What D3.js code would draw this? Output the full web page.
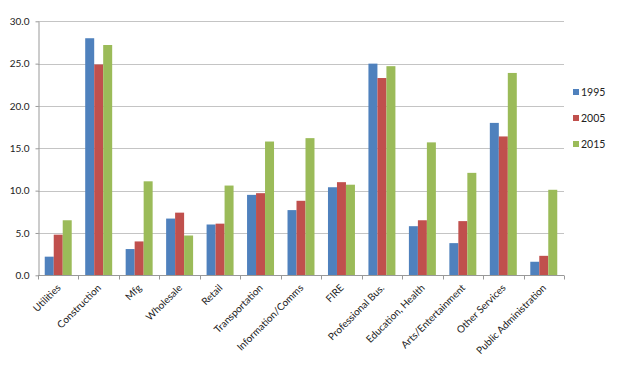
<!DOCTYPE html>
<html lang="en">
<head>
    <meta charset="UTF-8">
    <title>Industry shares 1995-2015</title>
    <style>
        body { margin: 0; background: #fff; }
        svg text { font-family: Lato, "Open Sans", sans-serif; fill: #222; }
    </style>
</head>
<body>
    <svg id="chart"></svg>
    <script src="https://cdn.jsdelivr.net/npm/d3@7/dist/d3.min.js"></script>
    <script>
        const categories = ["Utilities", "Construction", "Mfg", "Wholesale", "Retail", "Transportation",
            "Information/Comms", "FIRE", "Professional Bus.", "Education, Health", "Arts/Entertainment",
            "Other Services", "Public Administration"];
        const seriesNames = ["1995", "2005", "2015"];
        const values1995 = [2.2, 28.0, 3.1, 6.7, 6.0, 9.5, 7.7, 10.4, 25.0, 5.8, 3.8, 18.0, 1.6];
        const values2005 = [4.8, 24.9, 4.0, 7.4, 6.1, 9.7, 8.8, 11.0, 23.3, 6.5, 6.4, 16.4, 2.3];
        const values2015 = [6.5, 27.2, 11.1, 4.7, 10.6, 15.8, 16.2, 10.7, 24.7, 15.7, 12.1, 23.9, 10.1];
        const yTicks = [0, 5, 10, 15, 20, 25, 30];
        const colors = ["#4f81bd", "#c0504d", "#9bbb59"];

        const seriesValues = [values1995, values2005, values2015];

        const width = 620, height = 370;
        const plot = { left: 38, right: 564, top: 21.3, bottom: 275.3 };

        const svg = d3.select("#chart").attr("width", width).attr("height", height);
        svg.append("rect").attr("width", width).attr("height", height).attr("fill", "#fff");

        const x = d3.scaleBand().domain(categories).range([plot.left, plot.right]);
        const x1 = d3.scaleBand().domain(seriesNames).range([0, x.bandwidth()])
            .paddingInner(0).paddingOuter(0.75);
        const y = d3.scaleLinear().domain([0, 30]).range([plot.bottom, plot.top]);

        // gridlines
        svg.append("g")
            .selectAll("line")
            .data(yTicks.filter(d => d > 0))
            .join("line")
            .attr("x1", plot.left).attr("x2", plot.right)
            .attr("y1", d => Math.round(y(d)) + 0.5).attr("y2", d => Math.round(y(d)) + 0.5)
            .attr("stroke", "#c4c4c4");

        // bars
        const rows = categories.map((c, i) => ({ cat: c, vals: seriesNames.map((s, k) => ({ s, k, v: seriesValues[k][i] })) }));
        svg.append("g")
            .selectAll("g")
            .data(rows)
            .join("g")
            .attr("transform", d => "translate(" + x(d.cat) + ",0)")
            .selectAll("rect")
            .data(d => d.vals)
            .join("rect")
            .attr("x", d => x1(d.s))
            .attr("width", x1.bandwidth())
            .attr("y", d => y(d.v))
            .attr("height", d => y(0) - y(d.v))
            .attr("fill", d => colors[d.k]);

        // y axis
        const yAxis = svg.append("g")
            .attr("transform", "translate(" + (plot.left + 0.5) + ",0)")
            .call(d3.axisLeft(y).tickValues(yTicks).tickFormat(d3.format(".1f")).tickSize(3).tickSizeOuter(0).tickPadding(6));
        yAxis.select(".domain").attr("stroke", "#999");
        yAxis.selectAll(".tick line").attr("stroke", "#999");
        yAxis.selectAll("text").attr("font-size", "10px").attr("fill", "#222");

        // x axis
        const xAxis = svg.append("g").attr("transform", "translate(0," + (Math.round(plot.bottom) + 0.5) + ")");
        xAxis.append("line")
            .attr("x1", plot.left).attr("x2", plot.right)
            .attr("stroke", "#999");
        xAxis.selectAll("line.tk")
            .data(categories.map(c => x(c)).concat([plot.right]))
            .join("line")
            .attr("class", "tk")
            .attr("x1", d => Math.round(d) + 0.5).attr("x2", d => Math.round(d) + 0.5)
            .attr("y1", 0).attr("y2", 4)
            .attr("stroke", "#999");
        xAxis.selectAll("text")
            .data(categories)
            .join("text")
            .attr("transform", d => "translate(" + (x(d) + x.bandwidth() / 2 + 3) + ",13) rotate(-45)")
            .attr("text-anchor", "end")
            .attr("font-size", "10px")
            .text(d => d);

        // legend
        const legend = svg.append("g")
            .selectAll("g")
            .data(seriesNames)
            .join("g")
            .attr("transform", (d, i) => "translate(573," + (92 + i * 26) + ")");
        legend.append("rect")
            .attr("x", 0).attr("y", -3).attr("width", 6).attr("height", 6)
            .attr("fill", (d, i) => colors[i]);
        legend.append("text")
            .attr("x", 8).attr("y", 0).attr("dy", "0.35em")
            .attr("font-size", "10.5px")
            .text(d => d);
    </script>
</body>
</html>
